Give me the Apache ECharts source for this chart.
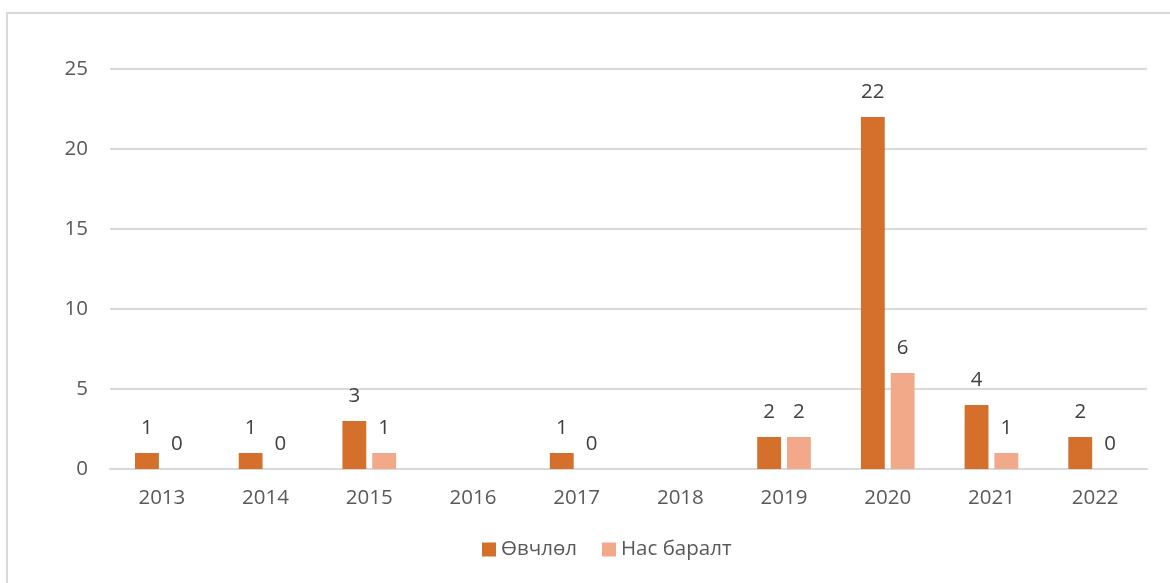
<!DOCTYPE html>
<html><head><meta charset="utf-8">
<script src="https://cdn.jsdelivr.net/npm/echarts@6/dist/echarts.min.js"></script>
<style>html,body{margin:0;padding:0;background:#fff}#c{width:1170px;height:583px}</style>
</head><body><div id="c"></div>
<script>
const categories = ['2013','2014','2015','2016','2017','2018','2019','2020','2021','2022'];
const seriesNames = ['Өвчлөл','Нас баралт'];
const incidence = [1,1,3,null,1,null,2,22,4,2];
const deaths = [0,0,1,null,0,null,2,6,1,0];
const yTicks = {min:0,max:25,interval:5};

const chart = echarts.init(document.getElementById('c'));
const font = 'Open Sans';
const labelCfg = {show:true, position:'top', distance:14, color:'#404040', fontSize:20.5, fontFamily:font};
chart.setOption({
  animation:false,
  graphic:[{type:'rect', shape:{x:7,y:13,width:1200,height:620}, style:{fill:'none', stroke:'#D9D9D9', lineWidth:2}, silent:true}],
  grid:{left:110, right:23, top:69, bottom:114},
  legend:{bottom:18, left:477, itemWidth:14, itemHeight:14, itemGap:25, icon:'rect',
    textStyle:{color:'#595959', fontSize:20.5, fontFamily:font}, data:seriesNames},
  xAxis:{type:'category', data:categories, axisTick:{show:false},
    axisLine:{lineStyle:{color:'#D9D9D9', width:2}},
    axisLabel:{color:'#595959', fontSize:20.5, fontFamily:font, margin:19}},
  yAxis:{type:'value', min:yTicks.min, max:yTicks.max, interval:yTicks.interval,
    axisLine:{show:false}, axisTick:{show:false},
    splitLine:{lineStyle:{color:'#D9D9D9', width:2}},
    axisLabel:{color:'#595959', fontSize:20.5, fontFamily:font, margin:22}},
  series:[
    {name:seriesNames[0], type:'bar', data:incidence, barWidth:'23%', barGap:'25%', itemStyle:{color:'#D4702C'}, label:labelCfg},
    {name:seriesNames[1], type:'bar', data:deaths, barWidth:'23%', barGap:'25%', itemStyle:{color:'#F1A98A'}, label:labelCfg}
  ]
});
</script></body></html>
